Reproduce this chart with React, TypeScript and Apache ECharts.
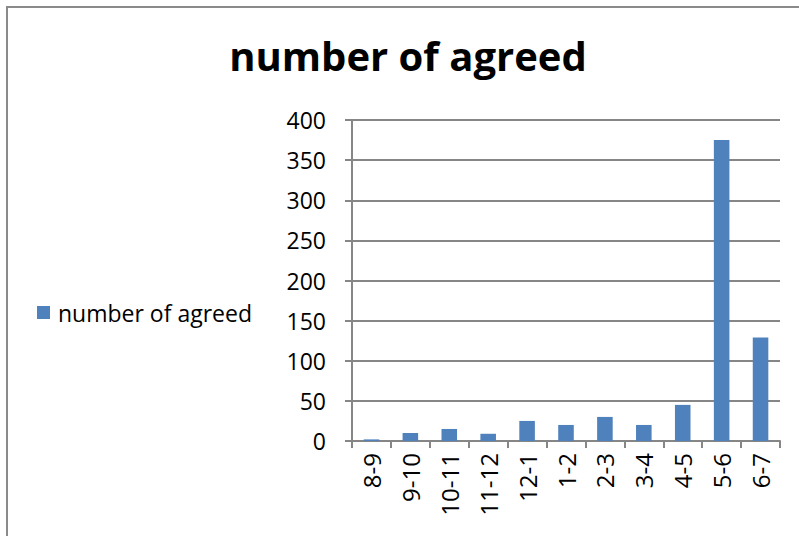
import React, { useEffect, useRef } from "react";
import * as echarts from "echarts";

const categories = ["8-9", "9-10", "10-11", "11-12", "12-1", "1-2", "2-3", "3-4", "4-5", "5-6", "6-7"];
const agreed = [2, 10, 15, 9, 25, 20, 30, 20, 45, 375, 129];
const seriesName = "number of agreed";
const titleText = "number of agreed";

const FONT = "Open Sans";
const AXIS_GRAY = "#868686";

export default function App() {
  const ref = useRef<HTMLDivElement>(null);
  useEffect(() => {
    if (!ref.current) return;
    const chart = echarts.init(ref.current, null, { renderer: "svg" });
    chart.setOption({
      animation: false,
      backgroundColor: "#ffffff",
      title: {
        text: titleText,
        left: 403,
        top: 30,
        textAlign: "center",
        textStyle: { fontFamily: FONT, fontWeight: "bold", fontSize: 40, color: "#000" },
      },
      legend: {
        left: 32,
        top: 296,
        icon: "rect",
        itemWidth: 13,
        itemHeight: 13,
        itemGap: 8,
        textStyle: { fontFamily: FONT, fontSize: 23, color: "#000", padding: [0, 0, 0, 3] },
        data: [seriesName],
      },
      grid: { left: 352, top: 120, right: 19, bottom: 95, containLabel: false },
      xAxis: {
        type: "category",
        data: categories,
        axisLine: { lineStyle: { color: AXIS_GRAY, width: 2 } },
        axisTick: { show: true, length: 7, lineStyle: { color: AXIS_GRAY, width: 2 } },
        axisLabel: { rotate: 90, fontFamily: FONT, fontSize: 24, color: "#000", margin: 12, interval: 0 },
      },
      yAxis: {
        type: "value",
        min: 0,
        max: 400,
        interval: 50,
        axisLine: { show: true, lineStyle: { color: AXIS_GRAY, width: 2 } },
        axisTick: { show: true, length: 7, lineStyle: { color: AXIS_GRAY, width: 2 } },
        splitLine: { lineStyle: { color: AXIS_GRAY, width: 2 } },
        axisLabel: { fontFamily: FONT, fontSize: 23, color: "#000", margin: 26 },
      },
      series: [
        {
          name: seriesName,
          type: "bar",
          data: agreed,
          barWidth: "40%",
          itemStyle: { color: "#4F81BD" },
        },
      ],
      graphic: [
        {
          type: "rect",
          shape: { x: 7, y: 7, width: 900, height: 700 },
          style: { fill: "none", stroke: "#8a8a8a", lineWidth: 2 },
          silent: true,
        },
      ],
    });
    return () => chart.dispose();
  }, []);
  return (
    <div
      ref={ref}
      style={{ position: "fixed", left: 0, top: 0, width: 799, height: 536 }}
    />
  );
}
